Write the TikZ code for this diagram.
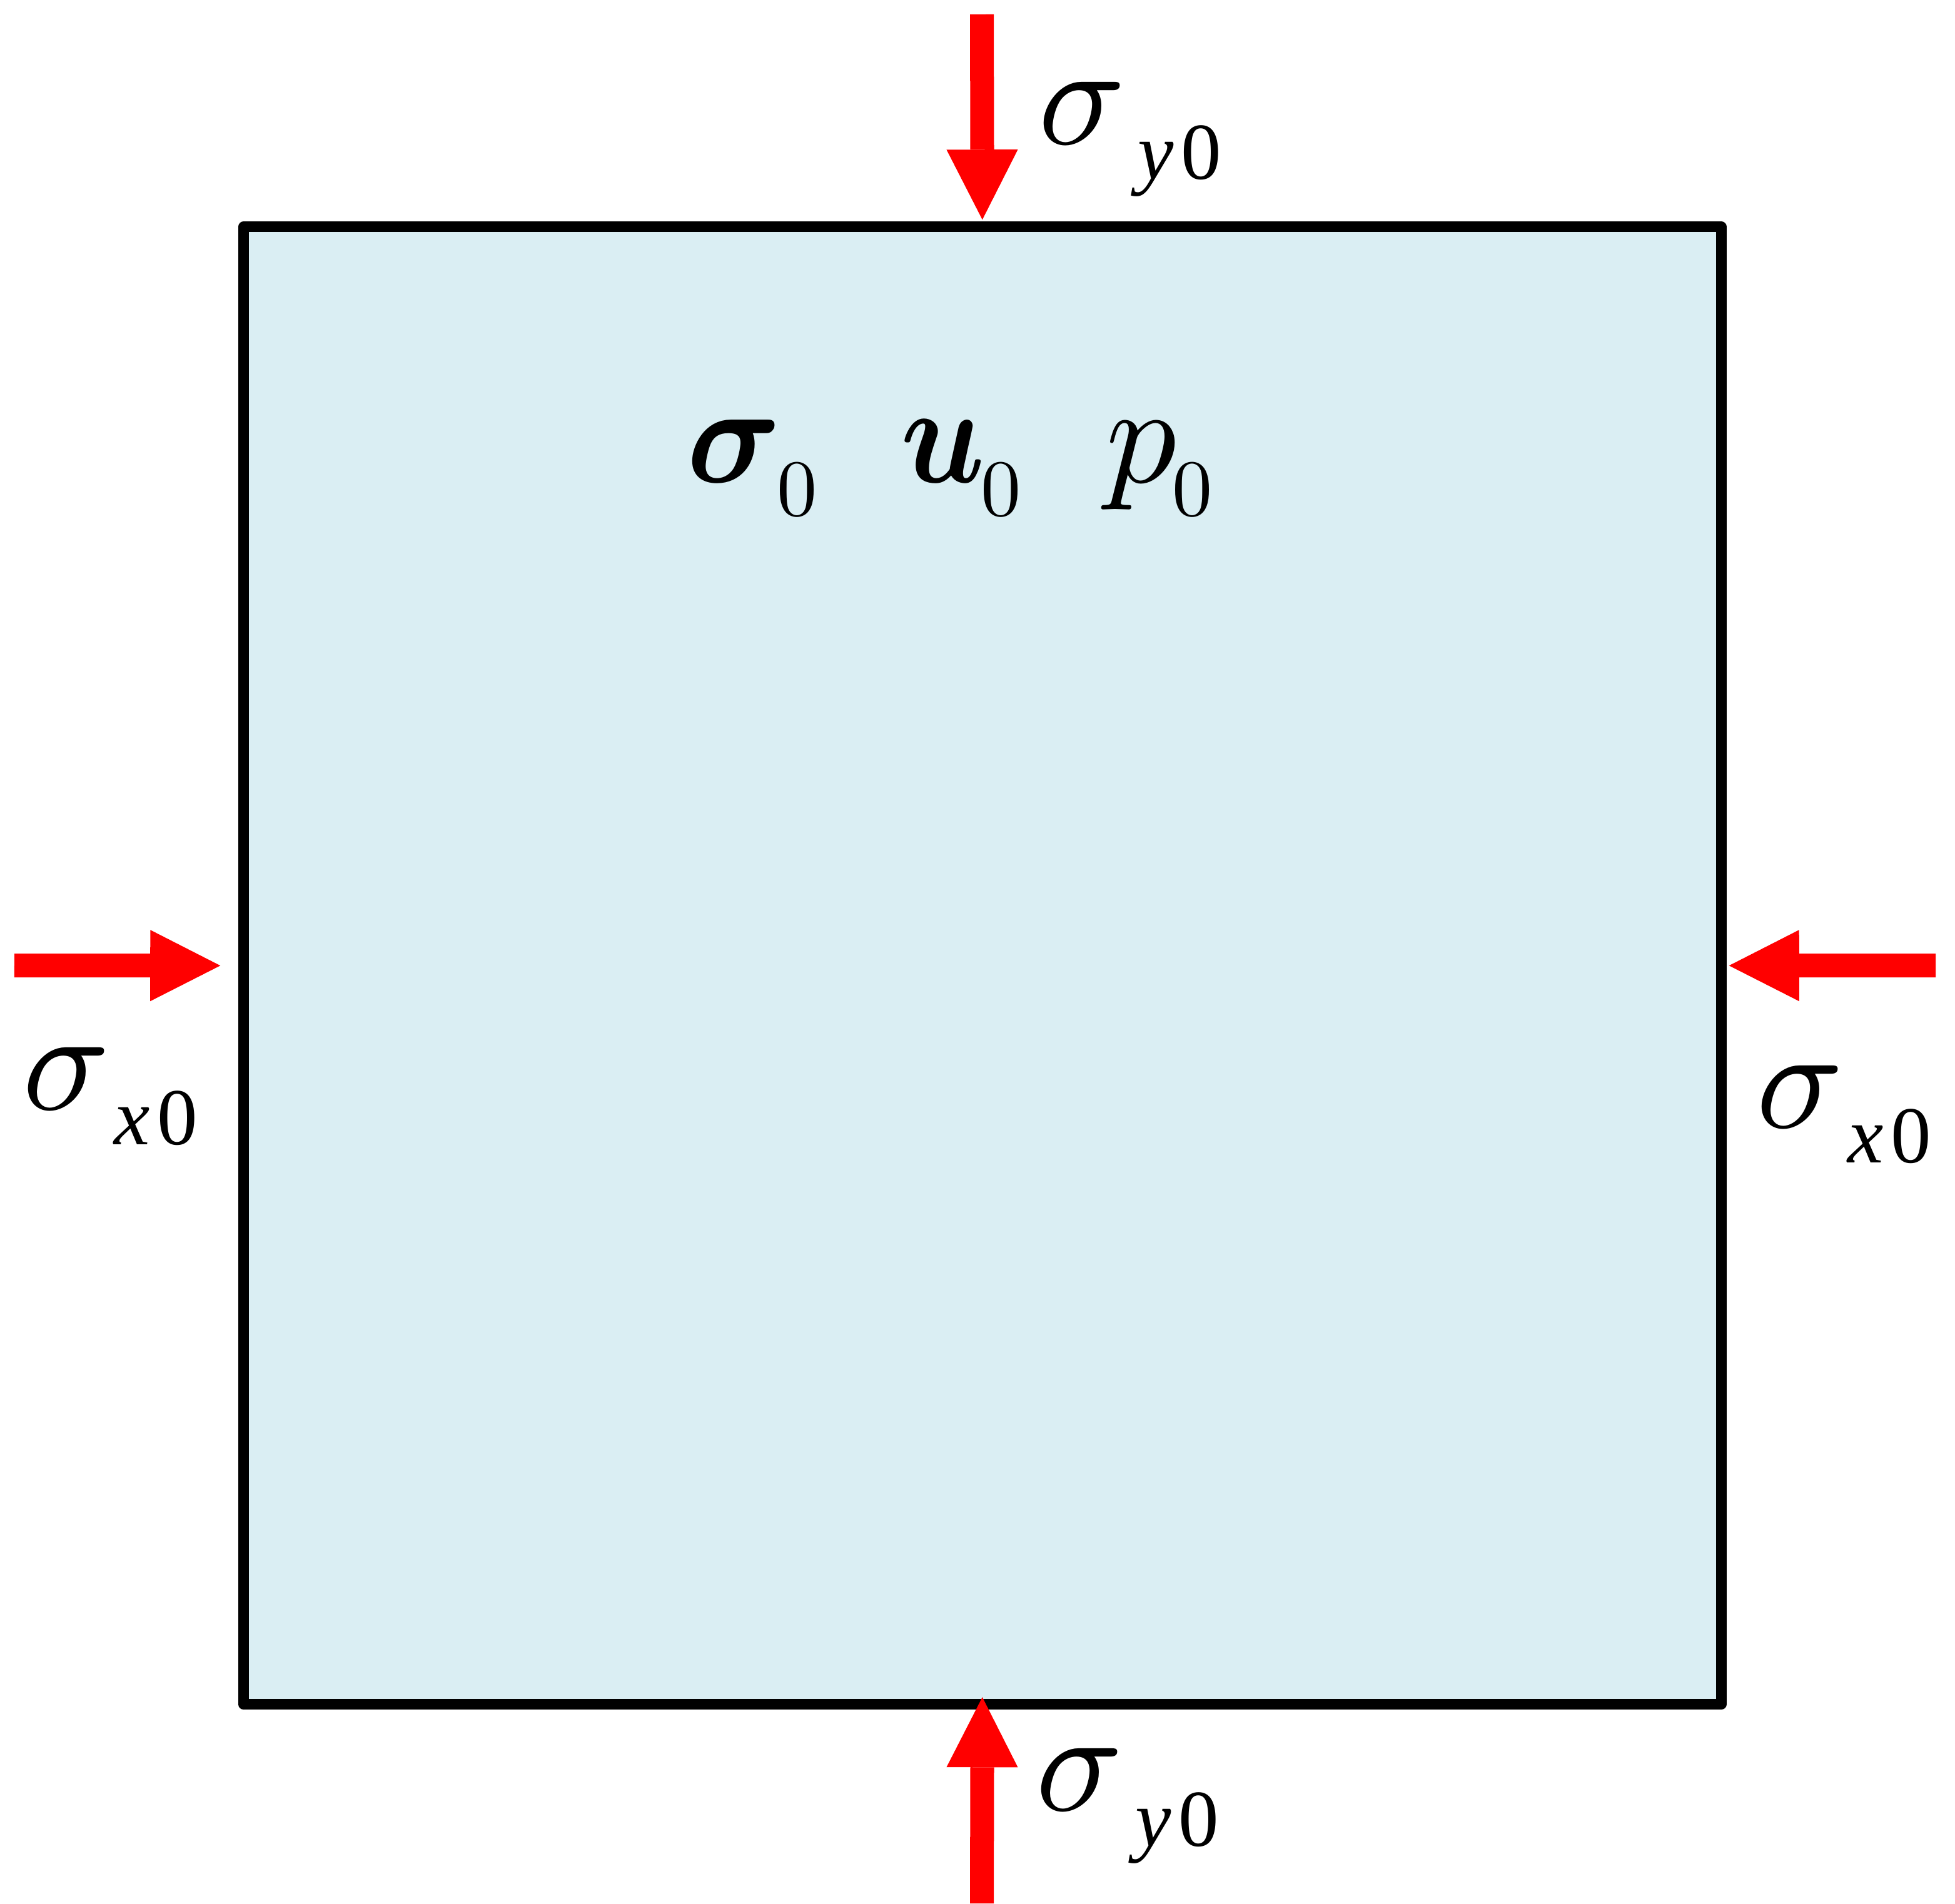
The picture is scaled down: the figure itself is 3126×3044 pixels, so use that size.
\documentclass[tikz,border=0pt]{standalone}
\usepackage[no-math]{fontspec}
\setmainfont{Liberation Serif}
\usepackage{amsmath,bm,graphicx}
\usetikzlibrary{arrows.meta}
\definecolor{boxfill}{HTML}{DAEEF3}
% #1 subscript letter, #2 kern after sigma, #3 kern before 0
\newcommand{\stresslabel}[3]{\scalebox{6.54}{$\sigma$}\hspace{#2}\raisebox{-16.2pt}{\fontsize{36.7pt}{40pt}\selectfont\itshape #1\hspace{#3}\upshape 0}}
% #1 horizontal squeeze of the symbol, #2 symbol
\newcommand{\fieldlabel}[2]{\scalebox{6.4}{\fontsize{10pt}{12pt}\selectfont\scalebox{#1}[1]{$#2$}\hspace{-0.3pt}\raisebox{-2.36pt}{\scalebox{0.57}{$0$}}}}
\tikzset{
  force/.style={draw=red, line width=10.81pt, line cap=butt,
    -{Triangle[length=1.12cm,width=1.14cm,line width=0pt]}},
  lbl/.style={inner sep=0pt, outer sep=0pt, anchor=base west}
}
\begin{document}
\begin{tikzpicture}[x=0.01cm,y=-0.01cm]
\useasboundingbox (0,0) rectangle (3126,3044);
\node[draw, line width=4.84pt, fill=boxfill, line join=round,
  minimum width=23.615cm, minimum height=23.615cm, inner sep=0pt] (box) at (1570.75,1544.25) {};
\coordinate (topS) at (1570,23);
\coordinate (botS) at (1570,3044);
\coordinate (lefS) at (23,1544);
\coordinate (rigS) at (3095,1544);
\draw[force] (topS) -- ([yshift=0.03cm]box.north);
\draw[force] (botS) -- ([yshift=0.2cm]box.south);
\draw[force] (lefS) -- ([xshift=-0.285cm]box.west);
\draw[force] (rigS) -- ([xshift=0.04cm]box.east);
\node[lbl] (ltop) at (1660,230) {\stresslabel{y}{5.7pt}{3.4pt}};
\node[lbl] (lbot) at (1656,2895) {\stresslabel{y}{5.7pt}{3.4pt}};
\node[lbl] (llef) at (36,1774) {\stresslabel{x}{2pt}{3.4pt}};
\node[lbl] (lrig) at (2808,1803) {\stresslabel{x}{2pt}{3.4pt}};
\node[lbl] (msig) at (1098,771) {\fieldlabel{0.93}{\boldsymbol{\sigma}}};
\node[lbl] (mu) at (1440,771) {\fieldlabel{0.88}{\boldsymbol{u}}};
\node[lbl] (mp) at (1768,771) {\fieldlabel{1}{p}};
\end{tikzpicture}
\end{document}
